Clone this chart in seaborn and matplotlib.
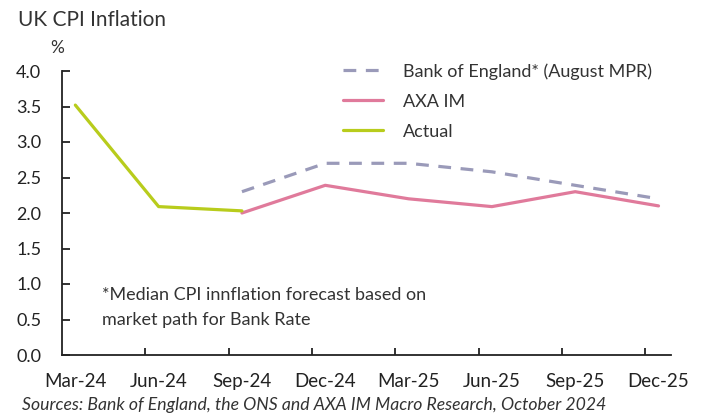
import numpy as np
import pandas as pd
import matplotlib
matplotlib.use("Agg")
import matplotlib.pyplot as plt
import seaborn as sns

# quarter labels on the x axis
quarters = ["Mar-24", "Jun-24", "Sep-24", "Dec-24", "Mar-25", "Jun-25", "Sep-25", "Dec-25"]

actual = [3.52, 2.09, 2.03, None, None, None, None, None]
axa_im = [None, None, 2.0, 2.39, 2.2, 2.09, 2.3, 2.1]
boe = [None, None, 2.3, 2.7, 2.7, 2.58, 2.39, 2.2]

series_names = ["Bank of England* (August MPR)", "AXA IM", "Actual"]

sns.set_style("white")
plt.rcParams["font.family"] = ["Lato", "DejaVu Sans"]

fig = plt.figure(figsize=(7.02, 4.16), dpi=100)
ax = fig.add_axes([62 / 702, 1 - 355 / 416, (671 - 62) / 702, (355 - 71) / 416])

x = np.arange(len(quarters))
df = pd.DataFrame({"x": x, "Actual": actual, "AXA IM": axa_im,
                   "Bank of England* (August MPR)": boe})

colors = {"Bank of England* (August MPR)": "#9a9ab9",
          "AXA IM": "#e07a9b",
          "Actual": "#b8cc1c"}

for name in series_names:
    sub = df[["x", name]].dropna()
    ls = (0, (4, 3)) if name.startswith("Bank") else "-"
    sns.lineplot(data=sub, x="x", y=name, ax=ax, color=colors[name],
                 linewidth=2.3, linestyle=ls, label=name)

ax.set_xlim(-0.16, 7.15)
ax.set_ylim(0, 4)
ax.set_yticks(np.arange(0, 4.01, 0.5))
ax.set_yticklabels(["%.1f" % v for v in np.arange(0, 4.01, 0.5)])
ax.set_xticks(x)
ax.set_xticklabels(quarters)
ax.set_xticks(np.arange(7) + 0.84, minor=True)
ax.set_xlabel("")
ax.set_ylabel("")

fontsize = 13
ax.tick_params(axis="y", direction="in", length=6, width=1.3, labelsize=13,
               colors="#222222", pad=15, left=True)
ax.tick_params(axis="x", which="major", length=0, labelsize=13.5,
               colors="#222222", pad=13)
ax.tick_params(axis="x", which="minor", direction="in", length=5, width=1.3,
               color="#222222", bottom=True)

for s in ["top", "right"]:
    ax.spines[s].set_visible(False)
for s in ["left", "bottom"]:
    ax.spines[s].set_color("#222222")
    ax.spines[s].set_linewidth(1.3)

leg = ax.legend(loc="upper left", bbox_to_anchor=(343 / 702, 1 - 63 / 416),
                bbox_transform=fig.transFigure, frameon=False, fontsize=fontsize,
                handlelength=2.2, handletextpad=1.1, labelspacing=0.78,
                borderaxespad=0, borderpad=0)
for t in leg.get_texts():
    t.set_color("#333333")

fig.text(18 / 702, 1 - 20 / 416, "UK CPI Inflation", fontsize=15, va="center",
         ha="left", color="#333333")
fig.text(50 / 702, 1 - 48 / 416, "%", fontsize=12.5, va="center", ha="left",
         color="#333333")
fig.text(102 / 702, 1 - 295 / 416, "*Median CPI innflation forecast based on",
         fontsize=fontsize, va="center", ha="left", color="#333333")
fig.text(102 / 702, 1 - 320 / 416, "market path for Bank Rate",
         fontsize=fontsize, va="center", ha="left", color="#333333")
fig.text(22 / 702, 1 - 405 / 416,
         "Sources: Bank of England, the ONS and AXA IM Macro Research, October 2024",
         fontsize=12.7, va="center", ha="left", style="italic", color="#333333")

fig.savefig("out.png", dpi=100)
